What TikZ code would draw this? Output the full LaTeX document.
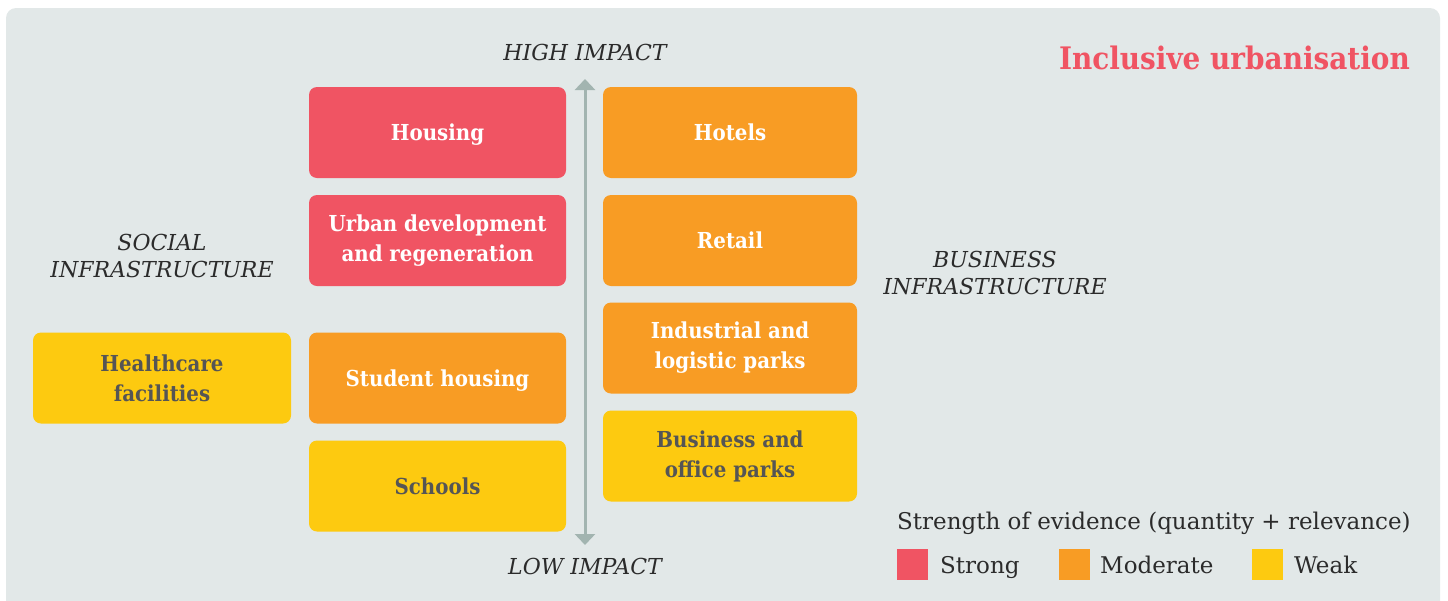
\documentclass[tikz,border=0pt]{standalone}
\usepackage{fontspec}
\setmainfont{DejaVu Serif}[BoldFeatures={FakeStretch=0.9}]
\usetikzlibrary{arrows.meta}
\definecolor{strongc}{HTML}{F05463}
\definecolor{moderatec}{HTML}{F89C24}
\definecolor{weakc}{HTML}{FDCA10}
\definecolor{panel}{HTML}{E2E8E8}
\definecolor{axisc}{HTML}{A2B4B0}
\definecolor{ink}{HTML}{2B2B2B}
\definecolor{weakink}{HTML}{555555}
\tikzset{
  area/.style={rounded corners=8pt,minimum height=91pt,inner sep=0pt,align=center,
    font=\fontsize{22}{30}\selectfont\bfseries},
  social/.style={area,minimum width=257pt},
  business/.style={area,minimum width=254pt},
  strong/.style={fill=strongc,text=white},
  moderate/.style={fill=moderatec,text=white},
  weak/.style={fill=weakc,text=weakink},
  side/.style={font=\fontsize{22}{27}\selectfont\itshape,text=ink,align=center},
  keybox/.style={minimum size=31pt,inner sep=0pt},
  keytext/.style={anchor=base west,inner sep=0pt,font=\fontsize{23}{26}\selectfont,text=ink}
}
\begin{document}
\begin{tikzpicture}[x=1pt,y=-1pt]
  \useasboundingbox (0,0) rectangle (1448,600);
  \fill[panel,rounded corners=10pt] (6,8) rectangle (1440,630);

  % impact axis
  \coordinate (high end) at (585,79);
  \coordinate (low end) at (585,545);
  \draw[axisc,line width=3pt,{Triangle[width=20pt,length=11pt]}-{Triangle[width=20pt,length=11pt]}] (high end) -- (low end);
  \node[side] (high) at (585,52) {HIGH IMPACT};
  \node[side] (low) at (585,566) {LOW IMPACT};

  % social infrastructure
  \node[side] (socialname) at (162,256) {SOCIAL\\INFRASTRUCTURE};
  \node[social,strong,text depth=0pt] (housing) at (437.5,132.5) {Housing};
  \node[social,strong] (urban) at (437.5,240.5) {Urban development\\and regeneration};
  \node[social,moderate,text depth=0pt] (student) at (437.5,378) {Student housing};
  \node[social,weak] (schools) at (437.5,486) {Schools};
  \node[social,weak,minimum width=258pt] (health) at (162,378) {Healthcare\\facilities};

  % business infrastructure
  \node[side] (businessname) at (995,273) {BUSINESS\\INFRASTRUCTURE};
  \node[business,moderate] (hotels) at (730,132.5) {Hotels};
  \node[business,moderate] (retail) at (730,240.5) {Retail};
  \node[business,moderate] (parks) at (730,348) {Industrial and\\logistic parks};
  \node[business,weak] (offices) at (730,456) {Business and\\office parks};

  \node[anchor=east,inner sep=0pt,text=strongc,font=\fontsize{31}{36}\selectfont\bfseries] (title) at (1410,58) {Inclusive urbanisation};

  % legend
  \node[keytext] (keyhead) at (897,529) {Strength of evidence (quantity + relevance)};
  \node[keybox,fill=strongc] (kstrong) at (912,564) {};
  \node[keytext] at (940,573) {Strong};
  \node[keybox,fill=moderatec] (kmoderate) at (1074.5,564) {};
  \node[keytext] at (1100,573) {Moderate};
  \node[keybox,fill=weakc] (kweak) at (1267.5,564) {};
  \node[keytext] at (1294,573) {Weak};
\end{tikzpicture}
\end{document}
